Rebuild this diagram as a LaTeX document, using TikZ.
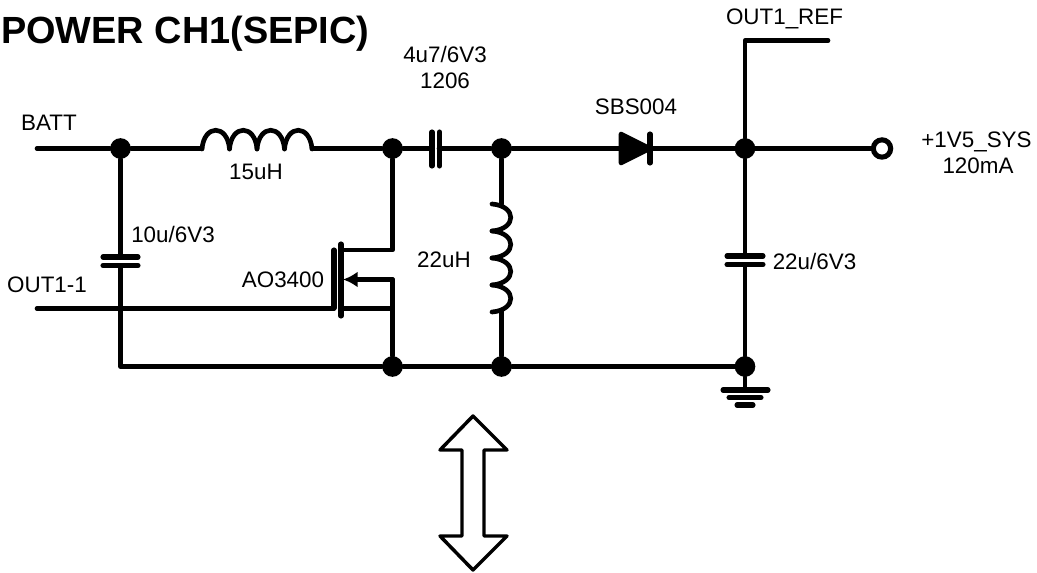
\documentclass[tikz,border=0pt]{standalone}
\usepackage{fontspec}
\setmainfont{Liberation Sans}
\usetikzlibrary{arrows.meta}

\tikzset{
    wire/.style={line width=3.5pt, line cap=round, line join=round},
    plate/.style={line width=3.8pt, line cap=round},
    dot/.style={circle, fill=black, inner sep=0pt, minimum size=15.5pt},
    lbl/.style={inner sep=0pt, font=\fontsize{16.8}{18}\selectfont},
}

\begin{document}
\begin{tikzpicture}[x=0.75pt, y=-0.75pt]
    \useasboundingbox (0,0) rectangle (1037,573);

    % Узлы схемы
    \node[dot] (j1) at (120.5,148.5) {};
    \node[dot] (j2) at (392.5,148.5) {};
    \node[dot] (j3) at (501.5,148.5) {};
    \node[dot] (j4) at (745,148.5) {};
    \node[dot] (j6) at (392.5,366.5) {};
    \node[dot] (j7) at (501.5,366.5) {};
    \node[dot] (j8) at (745,366.5) {};
    \node[circle, draw, line width=3.8pt, fill=white, inner sep=0pt, minimum size=13pt] (vout) at (882,148.5) {};

    % Свободные концы проводов
    \coordinate (batt) at (37,148.5);
    \coordinate (gatein) at (37,308.5);
    \coordinate (refend) at (828,40.5);
    \coordinate (refcorner) at (745,40.5);
    \coordinate (la) at (202,148.5);
    \coordinate (lb) at (312,148.5);
    \coordinate (ca) at (432,148.5);
    \coordinate (cb) at (439,148.5);
    \coordinate (da) at (620,148.5);
    \coordinate (db) at (650,148.5);
    \coordinate (lva) at (501.5,204);
    \coordinate (lvb) at (501.5,311);
    \coordinate (c1a) at (120.5,257);
    \coordinate (c1b) at (120.5,265.5);
    \coordinate (c1c) at (120.5,366.5);
    \coordinate (c3a) at (745,256);
    \coordinate (c3b) at (745,264.5);
    \coordinate (gnd) at (745,390);

    % Провода
    \draw[wire] (batt) -- (j1) -- (la);
    \draw[wire] (lb) -- (j2) -- (ca);
    \draw[wire] (cb) -- (j3) -- (da);
    \draw[wire] (db) -- (j4) -- (vout);
    \draw[wire] (refend) -- (refcorner) -- (j4);
    \draw[wire] (j1) -- (c1a);
    \draw[wire] (c1b) -- (c1c) -- (j6) -- (j7) -- (j8);
    \draw[wire] (j3) -- (lva);
    \draw[wire] (lvb) -- (j7);
    \draw[wire] (j4) -- (c3a);
    \draw[wire] (c3b) -- (j8) -- (gnd);
    \draw[wire] (gatein) -- (334,308.5);

    % Катушка 15uH
    \foreach \x in {202,229.5,257,284.5} {
        \draw[wire] (\x,149) .. controls (\x+2,124) and (\x+25.5,124) .. (\x+27.5,149);
    }

    % Катушка 22uH
    \foreach \y in {204,231,258,285} {
        \draw[wire] (492,\y) .. controls (517,\y+2) and (517,\y+25) .. (492,\y+27);
    }

    % Конденсаторы
    \draw[plate] (432,132) -- (432,166);
    \draw[plate] (439.5,132) -- (439.5,166);
    \draw[plate] (103,257) -- (138,257);
    \draw[plate] (103,265.5) -- (138,265.5);
    \draw[plate] (727,256) -- (763,256);
    \draw[plate] (727,264.5) -- (763,264.5);

    % Диод
    \draw[wire, fill=black] (621,134) -- (621,163) -- (650,148.5) -- cycle;
    \draw[plate] (650,134) -- (650,163);

    % Транзистор
    \coordinate (drain) at (341,250);
    \coordinate (source) at (341,308.5);
    \coordinate (body) at (392.5,279.5);
    \draw[plate] (334,250) -- (334,308);
    \draw[plate] (341,244) -- (341,316);
    \draw[wire] (j2) |- (drain);
    \draw[wire] (source) -- (392.5,308.5);
    \draw[wire] (j6) -- (body);
    \draw[wire, -{Latex[length=11pt, width=12pt]}] (body) -- (343,279.5);

    % Земля
    \draw[plate] (723,390) -- (768,390);
    \draw[plate] (729,397.5) -- (761,397.5);
    \draw[plate] (737,405) -- (753,405);

    % Двойная стрелка
    \draw[line width=2.6pt, line join=round] (473,416) -- (507,450) -- (484,450) -- (484,536) -- (507,536)
        -- (473,570) -- (440,536) -- (462,536) -- (462,450) -- (440,450) -- cycle;

    % Подписи
    \node[inner sep=0pt, anchor=west, font=\fontsize{28.4}{30}\selectfont\bfseries] (title) at (1,34) {POWER CH1(SEPIC)};
    \node[lbl] (tbatt) at (49,123) {BATT};
    \node[lbl] (tl1) at (256,172) {15uH};
    \node[lbl] (tc1) at (173,234) {10u/6V3};
    \node[lbl] (tgate) at (47,285) {OUT1-1};
    \node[lbl] (tq) at (283,280) {AO3400};
    \node[lbl] (tl2) at (444,260) {22uH};
    \node[lbl] (tc2a) at (445,54) {4u7/6V3};
    \node[lbl] (tc2b) at (445,81) {1206};
    \node[lbl] (td) at (636,107) {SBS004};
    \node[lbl] (tref) at (784.5,19) {OUT1\_REF};
    \node[lbl] (tout) at (976.5,142) {+1V5\_SYS};
    \node[lbl] (tma) at (978,166) {120mA};
    \node[lbl] (tc3) at (814.5,261) {22u/6V3};
\end{tikzpicture}
\end{document}
